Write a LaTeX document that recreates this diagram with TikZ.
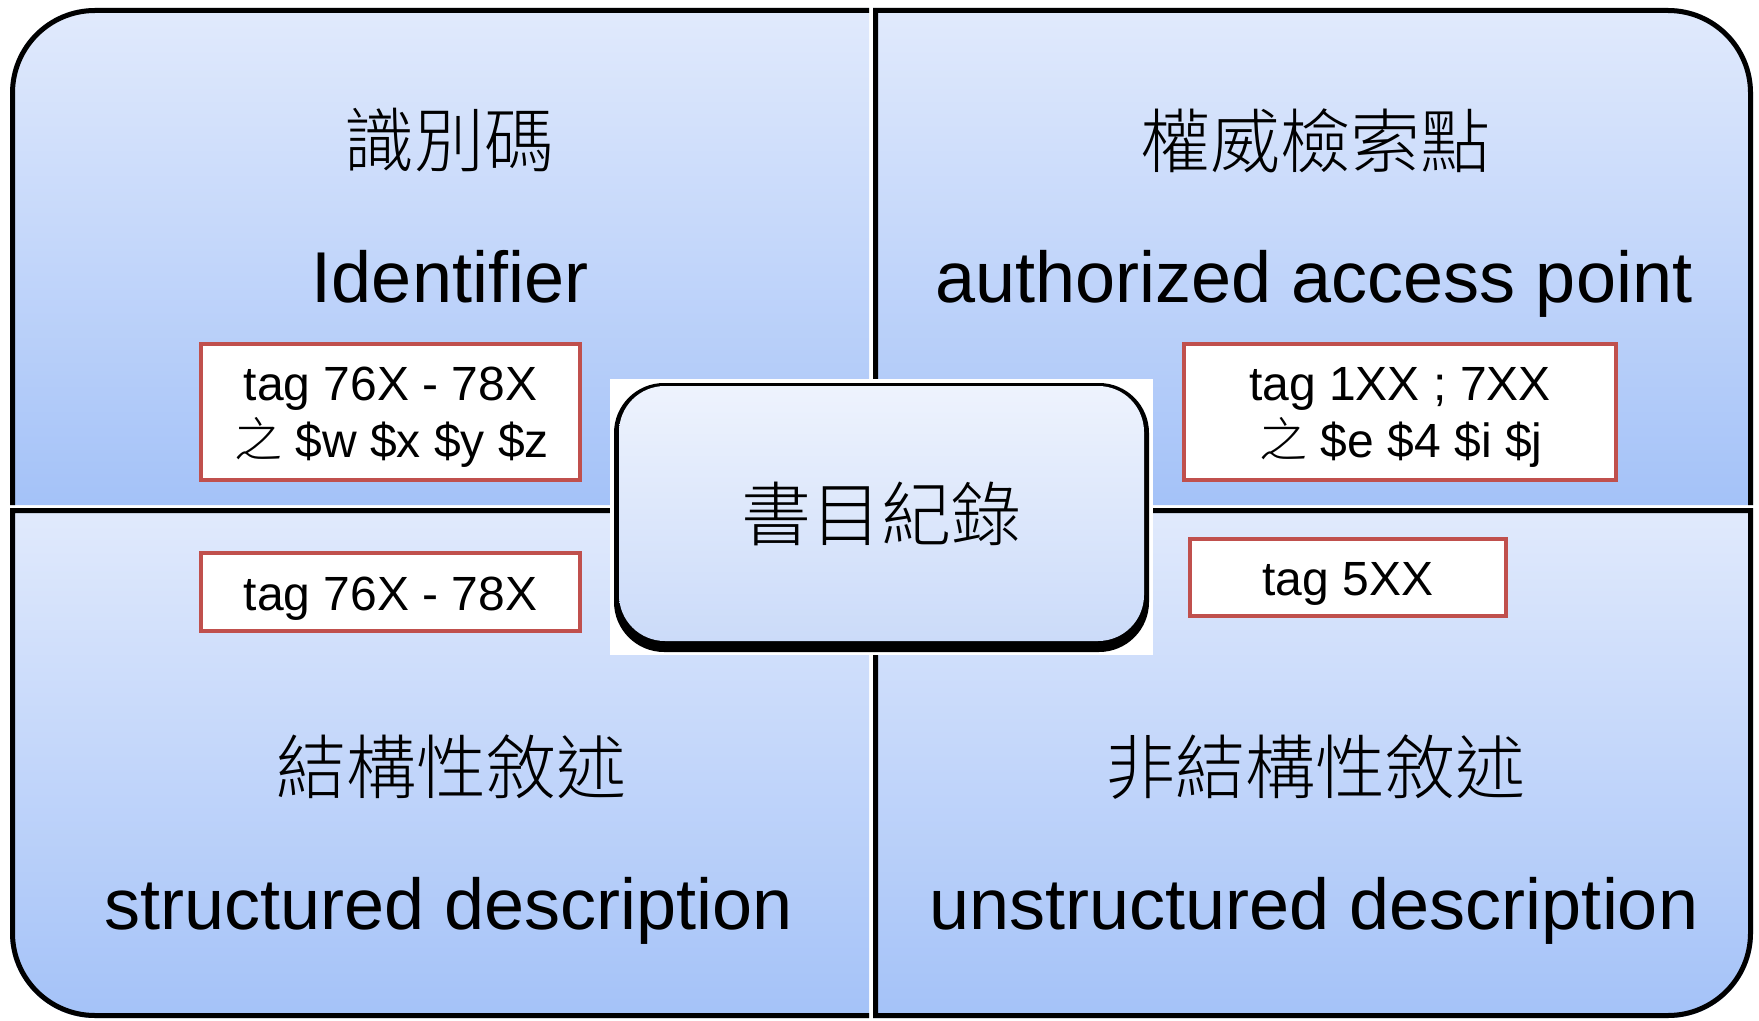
\documentclass[tikz,border=0pt]{standalone}
\usepackage{fontspec}
\setmainfont{Liberation Sans}
\newfontfamily\cjk{Noto Sans CJK TC}[UprightFont={* Light}]
\definecolor{qtop}{HTML}{E1EAFC}
\definecolor{qbot}{HTML}{A4C2F8}
\definecolor{ctop}{HTML}{EEF3FD}
\definecolor{cbot}{HTML}{CBDBF9}
\definecolor{tagred}{HTML}{C0504D}
\begin{document}
\begin{tikzpicture}[x=0.5pt,y=-0.5pt,
  quad/.style={top color=qtop,bottom color=qbot,draw=none},
  edge/.style={line width=2.5pt,draw=black},
  tagbox/.style={draw=tagred,line width=2pt,fill=white,inner sep=0pt},
  tagtxt/.style={anchor=base,inner sep=0pt,font=\fontsize{24}{28}\selectfont},
  entitle/.style={anchor=base,inner sep=0pt,font=\fontsize{36}{40}\selectfont},
  cjktitle/.style={inner sep=0pt,font=\cjk\fontsize{35}{40}\selectfont}]
\useasboundingbox (0,0) rectangle (1759,1021);
\fill[white] (0,0) rectangle (1759,1021);
% quadrant fills
\path[quad] (10,505) -- (10,93) arc[start angle=180,end angle=270,radius=85] -- (869,8) -- (869,505) -- cycle;
\path[quad] (873,505) -- (873,8) -- (1668,8) arc[start angle=270,end angle=360,radius=85] -- (1753,505) -- cycle;
\path[quad] (10,508) -- (869,508) -- (869,1018) -- (95,1018) arc[start angle=90,end angle=180,radius=85] -- cycle;
\path[quad] (873,508) -- (1753,508) -- (1753,933) arc[start angle=0,end angle=90,radius=85] -- (873,1018) -- cycle;
% quadrant borders
\draw[edge] (12.5,505) -- (12.5,93) arc[start angle=180,end angle=270,radius=82.5] -- (869,10.5);
\draw[edge] (875.5,505) -- (875.5,10.5) -- (1668,10.5) arc[start angle=270,end angle=360,radius=82.5] -- (1750.5,505);
\draw[edge] (869,510.5) -- (12.5,510.5) -- (12.5,933) arc[start angle=180,end angle=90,radius=82.5] -- (869,1015.5);
\draw[edge] (875.5,510.5) -- (1750.5,510.5) -- (1750.5,933) arc[start angle=0,end angle=90,radius=82.5] -- (875.5,1015.5) -- cycle;
% titles
\node[cjktitle] (t1) at (449,140.5) {識別碼};
\node[entitle] (e1) at (450,303) {Identifier};
\node[cjktitle] (t2) at (1315,140.5) {權威檢索點};
\node[entitle] (e2) at (1314,303) {authorized access point};
\node[cjktitle] (t3) at (451,767) {結構性敘述};
\node[entitle] (e3) at (449,929) {structured description};
\node[cjktitle] (t4) at (1315,767) {非結構性敘述};
\node[entitle] (e4) at (1314,929) {unstructured description};
% tag boxes
\node[tagbox,minimum width=189.5pt,minimum height=68pt] (b1) at (390.5,412) {};
\node[tagtxt] (b1a) at (390.5,400) {tag 76X - 78X};
\node[tagtxt] (b1b) at (391.5,457) {{\cjk 之} \$w \$x \$y \$z};
\node[tagbox,minimum width=189.5pt,minimum height=39pt] (b3) at (390.5,592) {};
\node[tagtxt] (b3a) at (390.5,610) {tag 76X - 78X};
\node[tagbox,minimum width=216pt,minimum height=68pt] (b2) at (1400,412) {};
\node[tagtxt] (b2a) at (1400,400) {tag 1XX ; 7XX};
\node[tagtxt] (b2b) at (1401,457) {{\cjk 之} \$e \$4 \$i \$j};
\node[tagbox,minimum width=158pt,minimum height=38.5pt] (b4) at (1348,577.5) {};
\node[tagtxt] (b4a) at (1348,595) {tag 5XX};
% centre box
\fill[white] (610,379) rectangle (1153,655);
\fill[black,rounded corners=25pt] (614,383) rectangle (1149,652);
\path[top color=ctop,bottom color=cbot,rounded corners=23pt] (619,386) rectangle (1144,641);
\node[cjktitle] (c) at (881.5,513.5) {書目紀錄};
\end{tikzpicture}
\end{document}
